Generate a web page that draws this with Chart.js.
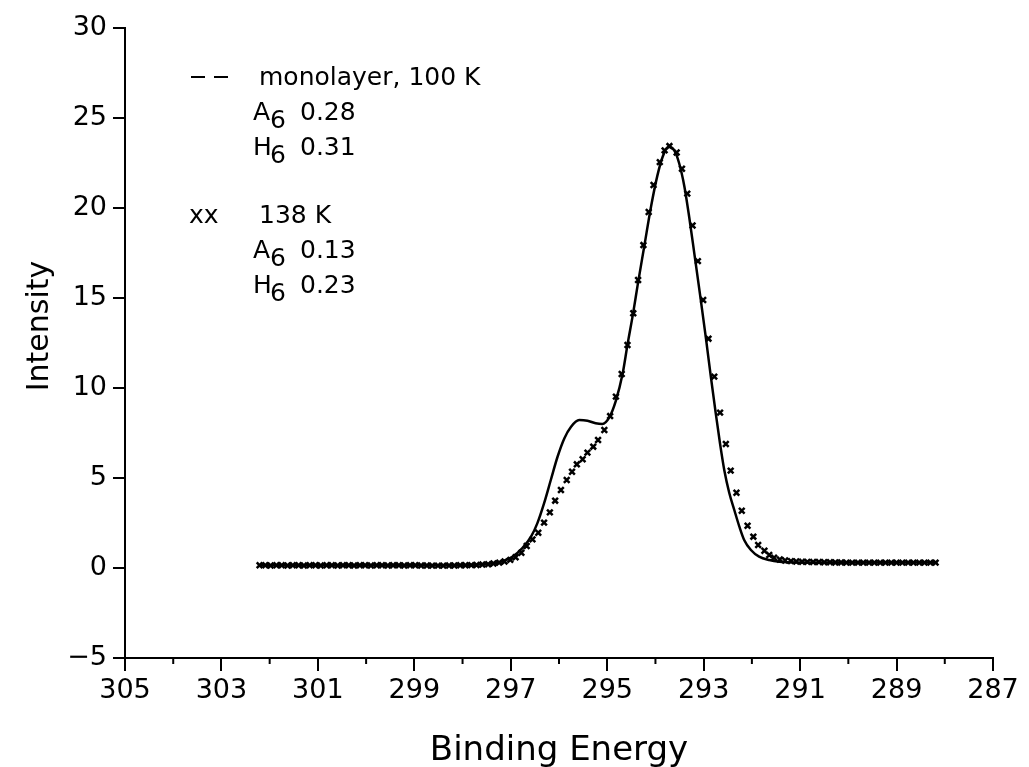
<!DOCTYPE html>
<html lang="en">
<head>
<meta charset="UTF-8">
<title>Binding Energy</title>
<script src="https://cdn.jsdelivr.net/npm/chart.js"></script>
<style>
  html, body { margin: 0; padding: 0; background: #fff; }
</style>
</head>
<body>
<canvas id="myChart" width="1029" height="767"></canvas>
<script>
// monolayer, 100 K (solid curve)
const lineEnergy = [302.18, 300.0, 298.5, 297.8, 297.5, 297.24, 296.96, 296.76, 296.58, 296.45, 296.31, 296.17, 296.03,
  295.89, 295.75, 295.58, 295.41, 295.24, 295.10, 294.96, 294.82, 294.68, 294.58, 294.46, 294.37, 294.23, 294.09,
  293.96, 293.85, 293.73, 293.61, 293.51, 293.40, 293.30, 293.19, 293.06, 292.95, 292.85, 292.75, 292.66, 292.57,
  292.47, 292.36, 292.26, 292.16, 292.02, 291.85, 291.64, 291.43, 291.0, 290.0, 288.15];
const lineIntensity = [0.15, 0.15, 0.15, 0.17, 0.22, 0.32, 0.63, 1.1, 1.74, 2.48, 3.59, 4.89, 6.18,
  7.2, 7.85, 8.22, 8.18, 8.04, 8.0, 8.35, 9.3, 10.8, 12.4, 14.2, 15.7, 17.9, 20.1,
  21.8, 22.85, 23.4, 23.2, 22.5, 21.2, 19.5, 17.4, 14.9, 12.7, 10.6, 8.6, 6.9, 5.4,
  4.18, 3.18, 2.3, 1.56, 1.0, 0.63, 0.44, 0.35, 0.31, 0.3, 0.3];

// 138 K (crosses)
const crossEnergy = [302.21, 302.09, 301.98, 301.86, 301.75, 301.63, 301.52, 301.40, 301.29, 301.17, 301.05, 300.94,
  300.82, 300.71, 300.59, 300.48, 300.36, 300.25, 300.13, 300.02, 299.90, 299.78, 299.67, 299.55, 299.44, 299.32,
  299.21, 299.09, 298.98, 298.86, 298.74, 298.63, 298.51, 298.40, 298.28, 298.17, 298.05, 297.94, 297.82, 297.71,
  297.59, 297.47, 297.36, 297.24, 297.13, 297.01, 296.90, 296.78, 296.67,
  296.55, 296.43, 296.31, 296.19, 296.08, 295.96, 295.84, 295.73, 295.63, 295.51, 295.41, 295.29, 295.19, 295.06,
  294.94, 294.82, 294.70, 294.58, 294.46, 294.36, 294.25, 294.14, 294.04, 293.91, 293.81, 293.71, 293.56, 293.45,
  293.34, 293.23, 293.12, 293.01, 292.90, 292.78, 292.66, 292.54, 292.44, 292.32, 292.21, 292.09, 291.97, 291.87,
  291.74, 291.64, 291.54,
  291.42, 291.31, 291.19, 291.08, 290.96, 290.85, 290.73, 290.61, 290.50, 290.38, 290.27, 290.15, 290.04, 289.92,
  289.80, 289.69, 289.57, 289.46, 289.34, 289.23, 289.11, 289.00, 288.88, 288.76, 288.65, 288.53, 288.42, 288.30, 288.19];
const crossIntensity = [0.15, 0.15, 0.14, 0.15, 0.15, 0.14, 0.15, 0.15, 0.14, 0.15, 0.15, 0.14,
  0.15, 0.15, 0.14, 0.15, 0.15, 0.14, 0.15, 0.15, 0.14, 0.15, 0.15, 0.14, 0.15, 0.15,
  0.14, 0.15, 0.15, 0.14, 0.14, 0.13, 0.13, 0.13, 0.14, 0.14, 0.15, 0.15, 0.16, 0.17,
  0.19, 0.21, 0.25, 0.3, 0.36, 0.45, 0.6, 0.85, 1.22,
  1.59, 1.96, 2.52, 3.09, 3.74, 4.33, 4.89, 5.35, 5.76, 6.04, 6.41, 6.74, 7.11, 7.67,
  8.44, 9.52, 10.78, 12.39, 14.15, 16.0, 17.94, 19.78, 21.28, 22.55, 23.2, 23.44, 23.08, 22.18,
  20.8, 19.03, 17.05, 14.89, 12.74, 10.63, 8.63, 6.89, 5.41, 4.18, 3.18, 2.35, 1.74, 1.28,
  0.96, 0.72, 0.57,
  0.47, 0.42, 0.38, 0.36, 0.35, 0.34, 0.33, 0.33, 0.32, 0.32, 0.31, 0.31, 0.3, 0.3,
  0.3, 0.3, 0.3, 0.3, 0.3, 0.3, 0.3, 0.3, 0.3, 0.3, 0.3, 0.3, 0.3, 0.3, 0.3];

const minorTicks = [304, 302, 300, 298, 296, 294, 292, 290, 288];

const legendLines = [
  { sym: 'dash', text: 'monolayer, 100 K', y: 85 },
  { label: 'A', sub: '6', text: '0.28', y: 120 },
  { label: 'H', sub: '6', text: '0.31', y: 155 },
  { sym: 'xx', text: '138 K', y: 223 },
  { label: 'A', sub: '6', text: '0.13', y: 258 },
  { label: 'H', sub: '6', text: '0.23', y: 293 }
];

const fontFam = '"DejaVu Sans", sans-serif';

const extras = {
  id: 'extras',
  afterDraw(chart) {
    const ctx = chart.ctx;
    const xs = chart.scales.x;
    const area = chart.chartArea;
    ctx.save();
    ctx.fillStyle = '#000';
    ctx.strokeStyle = '#000';

    // minor ticks on the energy axis
    ctx.lineWidth = 2;
    minorTicks.forEach(v => {
      const px = xs.getPixelForValue(v);
      ctx.beginPath();
      ctx.moveTo(px, area.bottom);
      ctx.lineTo(px, area.bottom + 6);
      ctx.stroke();
    });

    // axis titles
    ctx.textAlign = 'center';
    ctx.textBaseline = 'alphabetic';
    ctx.font = '34px ' + fontFam;
    ctx.fillText('Binding Energy', (area.left + area.right) / 2, 760);
    ctx.font = '30px ' + fontFam;
    ctx.save();
    ctx.translate(48, 326);
    ctx.rotate(-Math.PI / 2);
    ctx.fillText('Intensity', 0, 0);
    ctx.restore();

    // legend block
    ctx.textAlign = 'left';
    ctx.font = '25px ' + fontFam;
    legendLines.forEach(l => {
      if (l.sym === 'dash') {
        ctx.lineWidth = 2;
        ctx.beginPath();
        ctx.moveTo(191, l.y - 8); ctx.lineTo(205, l.y - 8);
        ctx.moveTo(214, l.y - 8); ctx.lineTo(228, l.y - 8);
        ctx.stroke();
        ctx.fillText(l.text, 259, l.y);
      } else if (l.sym === 'xx') {
        ctx.fillText('xx', 189, l.y);
        ctx.fillText(l.text, 259, l.y);
      } else {
        ctx.fillText(l.label, 253, l.y);
        ctx.fillText(l.sub, 270, l.y + 8);
        ctx.fillText(l.text, 300, l.y);
      }
    });
    ctx.restore();
  }
};

const ctx = document.getElementById('myChart').getContext('2d');
const myChart = new Chart(ctx, {
  type: 'scatter',
  data: {
    datasets: [
      {
        label: 'monolayer, 100 K',
        data: lineEnergy.map((e, i) => ({ x: e, y: lineIntensity[i] })),
        showLine: true,
        borderColor: '#000',
        borderWidth: 2.5,
        pointRadius: 0,
        cubicInterpolationMode: 'monotone'
      },
      {
        label: '138 K',
        data: crossEnergy.map((e, i) => ({ x: e, y: crossIntensity[i] })),
        showLine: false,
        pointStyle: 'crossRot',
        pointRadius: 4,
        borderColor: '#000',
        borderWidth: 2.5,
        backgroundColor: '#000'
      }
    ]
  },
  options: {
    responsive: false,
    animation: false,
    devicePixelRatio: 1,
    layout: { padding: { left: 0, top: 28, right: 36, bottom: 0 } },
    plugins: {
      legend: { display: false },
      tooltip: { enabled: false }
    },
    scales: {
      x: {
        type: 'linear',
        reverse: true,
        min: 287,
        max: 305,
        border: { display: true, color: '#000', width: 2 },
        grid: { drawOnChartArea: false, drawTicks: true, tickLength: 13, color: '#000', lineWidth: 2 },
        ticks: {
          stepSize: 2,
          color: '#000',
          padding: 4,
          maxRotation: 0,
          font: { family: fontFam, size: 27 }
        },
        afterFit(scale) { scale.height = 767 - 658; }
      },
      y: {
        min: -5,
        max: 30,
        border: { display: true, color: '#000', width: 2 },
        grid: { drawOnChartArea: false, drawTicks: true, tickLength: 12, color: '#000', lineWidth: 2 },
        ticks: {
          stepSize: 5,
          color: '#000',
          padding: 6,
          font: { family: fontFam, size: 27 },
          callback: v => (v < 0 ? '\u2212' + Math.abs(v) : String(v))
        },
        afterFit(scale) { scale.width = 125; }
      }
    }
  },
  plugins: [extras]
});
</script>
</body>
</html>
